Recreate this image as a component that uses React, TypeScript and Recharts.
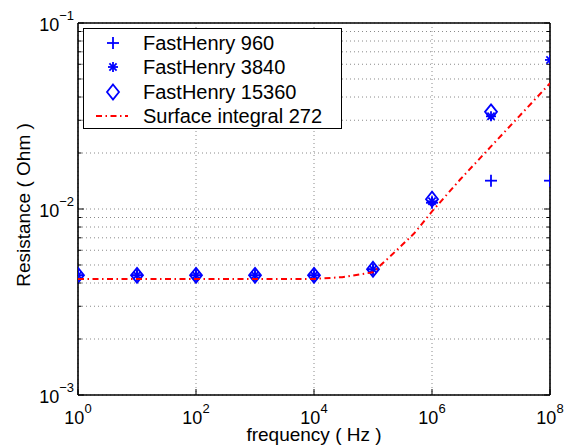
import React from 'react';
import { ScatterChart, Scatter, XAxis, YAxis, CartesianGrid, Legend } from 'recharts';

// ---------- data ----------
const freqFH = [1, 10, 100, 1e3, 1e4, 1e5, 1e6, 1e7, 1e8];
const fh960 = [4.4e-3, 4.4e-3, 4.4e-3, 4.4e-3, 4.4e-3, 4.74e-3, 1.08e-2, 1.42e-2, 1.42e-2];
const fh3840 = [4.4e-3, 4.4e-3, 4.4e-3, 4.4e-3, 4.4e-3, 4.74e-3, 1.1e-2, 3.15e-2, 6.33e-2];
const freqFH15360 = [1, 10, 100, 1e3, 1e4, 1e5, 1e6, 1e7];
const fh15360 = [4.4e-3, 4.4e-3, 4.4e-3, 4.4e-3, 4.4e-3, 4.74e-3, 1.13e-2, 3.33e-2];
const freqSurf = [1, 10, 100, 1e3, 1e4, 3e4, 1e5, 2e5, 5e5, 1e6, 3e6, 1e7, 3e7, 1e8];
const surf272 = [4.21e-3, 4.21e-3, 4.21e-3, 4.21e-3, 4.21e-3, 4.3e-3, 4.57e-3, 5.6e-3, 7.4e-3, 9.7e-3, 1.44e-2, 2.17e-2, 3.15e-2, 4.74e-2];

const xTicks = [1, 1e2, 1e4, 1e6, 1e8];
const yTicks = [
  1e-3, 2e-3, 3e-3, 4e-3, 5e-3, 6e-3, 7e-3, 8e-3, 9e-3,
  1e-2, 2e-2, 3e-2, 4e-2, 5e-2, 6e-2, 7e-2, 8e-2, 9e-2, 1e-1,
];

const seriesNames = ['FastHenry 960', 'FastHenry 3840', 'FastHenry 15360', 'Surface integral 272'];

const toPts = (xs: number[], ys: number[]) => xs.map((f, i) => ({ f, r: ys[i] }));
const d960 = toPts(freqFH, fh960);
const d3840 = toPts(freqFH, fh3840);
const d15360 = toPts(freqFH15360, fh15360);
const dSurf = toPts(freqSurf, surf272);

// ---------- styles ----------
const FONT = '"Liberation Sans", Arial, Helvetica, sans-serif';
const BLUE = '#0000ff';
const RED = '#ff0000';
const DASHDOT = '6 3.5 1.5 3.5';
const MW = 1.8;

const isDecade = (v: number) => Math.abs(Math.log10(v) - Math.round(Math.log10(v))) < 1e-6;
const expOf = (v: number) => Math.round(Math.log10(v));
const expText = (e: number) => (e < 0 ? '\u2212' + Math.abs(e) : String(e));

// ---------- markers ----------
const Plus = ({ cx, cy }: any) => (
  <g stroke={BLUE} strokeWidth={MW} fill="none">
    <line x1={cx - 6} y1={cy} x2={cx + 6} y2={cy} />
    <line x1={cx} y1={cy - 6} x2={cx} y2={cy + 6} />
  </g>
);
const Star = ({ cx, cy }: any) => (
  <g stroke={BLUE} strokeWidth={MW} fill="none">
    <line x1={cx - 5} y1={cy} x2={cx + 5} y2={cy} />
    <line x1={cx} y1={cy - 5} x2={cx} y2={cy + 5} />
    <line x1={cx - 3.6} y1={cy - 3.6} x2={cx + 3.6} y2={cy + 3.6} />
    <line x1={cx - 3.6} y1={cy + 3.6} x2={cx + 3.6} y2={cy - 3.6} />
  </g>
);
const Diamond = ({ cx, cy }: any) => (
  <polygon
    points={`${cx},${cy - 7.5} ${cx + 6},${cy} ${cx},${cy + 7.5} ${cx - 6},${cy}`}
    stroke={BLUE}
    strokeWidth={MW}
    fill="none"
  />
);
const NoShape = () => <g />;

// ---------- ticks ----------
const XTickBottom = (props: any) => {
  const { x, y, payload } = props;
  const e = expOf(payload.value);
  return (
    <g>
      <line x1={x} y1={y} x2={x} y2={y - 6} stroke="#000" strokeWidth={1} />
      <text x={x} y={y + 29} textAnchor="middle" fontFamily={FONT} fontSize={18} fill="#000">
        <tspan>10</tspan>
        <tspan dy={-11} fontSize={13}>{expText(e)}</tspan>
      </text>
    </g>
  );
};
const XTickTop = (props: any) => {
  const { x, y } = props;
  return <line x1={x} y1={y} x2={x} y2={y + 6} stroke="#000" strokeWidth={1} />;
};
const YTickLeft = (props: any) => {
  const { x, y, payload } = props;
  const major = isDecade(payload.value);
  const e = expOf(payload.value);
  return (
    <g>
      <line x1={x} y1={y} x2={x + (major ? 6 : 3.5)} y2={y} stroke="#000" strokeWidth={1} />
      {major && (
        <text x={x - 4} y={y + 8} textAnchor="end" fontFamily={FONT} fontSize={18} fill="#000">
          <tspan>10</tspan>
          <tspan dy={-11} fontSize={13}>{expText(e)}</tspan>
        </text>
      )}
    </g>
  );
};
const YTickRight = (props: any) => {
  const { x, y, payload } = props;
  const major = isDecade(payload.value);
  return <line x1={x} y1={y} x2={x - (major ? 6 : 3.5)} y2={y} stroke="#000" strokeWidth={1} />;
};

// ---------- labels ----------
const XLabel = (props: any) => {
  const vb = props.viewBox || {};
  return (
    <text x={vb.x + vb.width / 2} y={vb.y + 46} textAnchor="middle" fontFamily={FONT} fontSize={19} fill="#000">
      frequency ( Hz )
    </text>
  );
};
const YLabel = (props: any) => {
  const vb = props.viewBox || {};
  const cx = vb.x + 30;
  const cy = vb.y + vb.height / 2 - 4;
  return (
    <text x={cx} y={cy} transform={`rotate(-90, ${cx}, ${cy})`} textAnchor="middle" fontFamily={FONT} fontSize={19} fill="#000">
      Resistance ( Ohm )
    </text>
  );
};

// ---------- legend ----------
const legendIcons = [
  <Plus cx={29} cy={12} />,
  <Star cx={29} cy={12} />,
  <Diamond cx={29} cy={12} />,
  <line x1={12} y1={12} x2={44} y2={12} stroke={RED} strokeWidth={2} strokeDasharray={DASHDOT} />,
];
const LegendBox = () => (
  <div
    style={{
      position: 'relative',
      width: 259,
      height: 101,
      boxSizing: 'border-box',
      border: '1.3px solid #000',
      background: '#fff',
      fontFamily: FONT,
    }}
  >
    {seriesNames.map((name, i) => (
      <div key={name} style={{ position: 'absolute', left: 0, top: 2 + i * 24.3, height: 24.3, width: 257 }}>
        <svg width={60} height={24} style={{ position: 'absolute', left: 0, top: 0 }}>
          {legendIcons[i]}
        </svg>
        <span
          style={{
            position: 'absolute',
            left: 59,
            top: 0,
            lineHeight: '24px',
            fontSize: 20,
            color: '#000',
            whiteSpace: 'nowrap',
          }}
        >
          {name}
        </span>
      </div>
    ))}
  </div>
);

const axisLineStyle = { stroke: '#000', strokeWidth: 1.6 };

export default function App() {
  return (
    <div style={{ position: 'absolute', left: 0, top: 0, width: 574, height: 448, background: '#fff' }}>
      <ScatterChart width={574} height={448} margin={{ top: 0, right: 0, bottom: 0, left: 0 }}>
        <CartesianGrid stroke="#8a8a8a" strokeDasharray="1 3" strokeWidth={1} />
        <XAxis
          dataKey="f"
          type="number"
          scale="log"
          domain={[1, 1e8]}
          allowDataOverflow
          ticks={xTicks}
          interval={0}
          height={53}
          tickSize={0}
          tickMargin={0}
          tickLine={false}
          axisLine={axisLineStyle}
          tick={<XTickBottom />}
          label={{ content: <XLabel /> }}
        />
        <XAxis
          xAxisId="top"
          orientation="top"
          type="number"
          scale="log"
          domain={[1, 1e8]}
          allowDataOverflow
          ticks={xTicks}
          interval={0}
          height={23}
          tickSize={0}
          tickMargin={0}
          tickLine={false}
          axisLine={axisLineStyle}
          tick={<XTickTop />}
        />
        <YAxis
          dataKey="r"
          type="number"
          scale="log"
          domain={[1e-3, 1e-1]}
          allowDataOverflow
          ticks={yTicks}
          interval={0}
          width={78}
          tickSize={0}
          tickMargin={0}
          tickLine={false}
          axisLine={axisLineStyle}
          tick={<YTickLeft />}
          label={{ content: <YLabel /> }}
        />
        <YAxis
          yAxisId="right"
          orientation="right"
          type="number"
          scale="log"
          domain={[1e-3, 1e-1]}
          allowDataOverflow
          ticks={yTicks}
          interval={0}
          width={24}
          tickSize={0}
          tickMargin={0}
          tickLine={false}
          axisLine={axisLineStyle}
          tick={<YTickRight />}
        />
        <Scatter name={seriesNames[0]} data={d960} shape={<Plus />} isAnimationActive={false} />
        <Scatter name={seriesNames[1]} data={d3840} shape={<Star />} isAnimationActive={false} />
        <Scatter name={seriesNames[2]} data={d15360} shape={<Diamond />} isAnimationActive={false} />
        <Scatter
          name={seriesNames[3]}
          data={dSurf}
          shape={<NoShape />}
          line={{ stroke: RED, strokeWidth: 2, strokeDasharray: DASHDOT }}
          isAnimationActive={false}
        />
        <Legend
          layout="horizontal"
          verticalAlign="middle"
          align="center"
          content={<LegendBox />}
          wrapperStyle={{ left: 83, top: 28, width: 259, height: 101 }}
        />
      </ScatterChart>
    </div>
  );
}
